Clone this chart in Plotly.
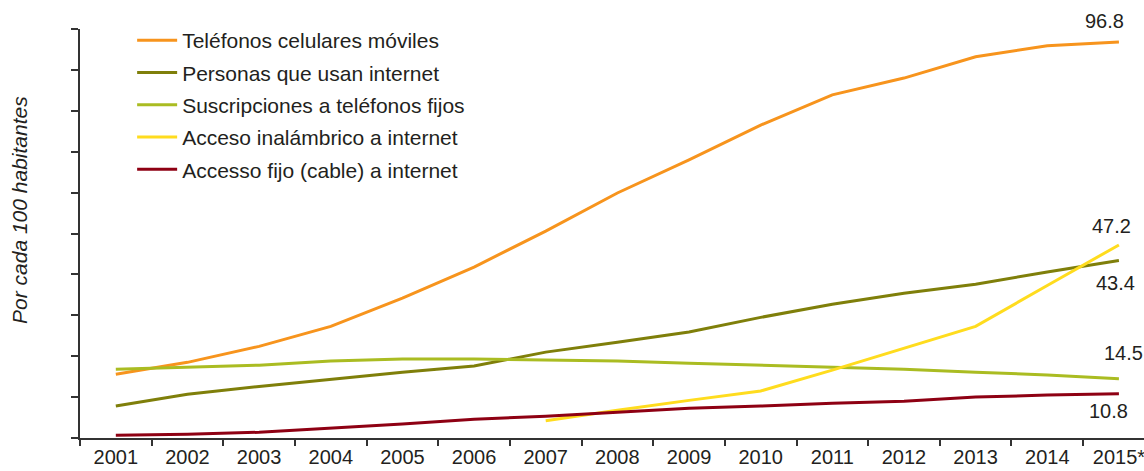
import plotly.graph_objects as go

# Years on the category axis
years = ["2001", "2002", "2003", "2004", "2005", "2006", "2007", "2008",
         "2009", "2010", "2011", "2012", "2013", "2014", "2015*"]

# Indicators per 100 inhabitants
moviles = [15.6, 18.5, 22.4, 27.3, 34.2, 41.8, 50.6, 59.9, 68.0, 76.5, 83.9, 88.0, 93.2, 95.9, 96.8]
usuarios_internet = [7.8, 10.7, 12.6, 14.4, 16.1, 17.6, 21.0, 23.4, 25.9, 29.5, 32.7, 35.4, 37.6, 40.6, 43.4]
fijos = [16.8, 17.3, 17.8, 18.8, 19.3, 19.3, 19.0, 18.8, 18.3, 17.8, 17.3, 16.8, 16.1, 15.4, 14.5]
inalambrico = [None, None, None, None, None, None, 4.2, 6.8, 9.2, 11.5, 16.6, 22.0, 27.3, 37.3, 47.2]
fijo_cable = [0.7, 0.9, 1.4, 2.4, 3.4, 4.6, 5.3, 6.3, 7.3, 7.8, 8.5, 9.0, 10.0, 10.5, 10.8]

series_names = [
    "Teléfonos celulares móviles",
    "Personas que usan internet",
    "Suscripciones a teléfonos fijos",
    "Acceso inalámbrico a internet",
    "Accesso fijo (cable) a internet",
]
series_values = [moviles, usuarios_internet, fijos, inalambrico, fijo_cable]
series_colors = ["#F7941D", "#7F7F0A", "#AABC22", "#FFDC1E", "#8E0013"]

FONT = "Liberation Sans, Arial, Helvetica, sans-serif"
TXT = "#231F20"

fig = go.Figure()
for i, (name, vals, col) in enumerate(zip(series_names, series_values, series_colors)):
    fig.add_trace(go.Scatter(
        x=years, y=vals, name=name, mode="lines",
        line=dict(color=col, width=3),
        legendgroup=f"g{i}",
        connectgaps=False,
    ))

# End-of-series value labels: (series index, x shift, y shift)
end_labels = [(0, -14, 21), (3, -7, 19), (1, -3, -23), (2, 5, 26), (4, -10, -17)]
for idx, dx, dy in end_labels:
    v = series_values[idx][-1]
    fig.add_annotation(
        x=years[-1], y=v, text=f"{v:.1f}", showarrow=False,
        xshift=dx, yshift=dy, xanchor="center", yanchor="middle",
        font=dict(family=FONT, size=20, color=TXT),
    )

# Rotated y-axis caption
fig.add_annotation(
    xref="paper", yref="paper", x=-60 / 1064, y=0.5575,
    text="<i>Por cada 100 habitantes</i>", textangle=-90, showarrow=False,
    xanchor="center", yanchor="middle",
    font=dict(family=FONT, size=21, color=TXT),
)

fig.update_layout(
    width=1144, height=471,
    margin=dict(l=80, r=0, t=29, b=33),
    paper_bgcolor="white", plot_bgcolor="white",
    font=dict(family=FONT, size=20, color=TXT),
    showlegend=True,
    legend=dict(
        x=0.049, y=1.022, xanchor="left", yanchor="top",
        bgcolor="rgba(0,0,0,0)", traceorder="grouped", tracegroupgap=2,
        itemwidth=40, font=dict(family=FONT, size=21, color=TXT),
    ),
    xaxis=dict(
        type="category", range=[-0.5, 14.35],
        showline=True, linecolor="#333333", linewidth=1.5,
        ticks="outside", tickson="boundaries", ticklen=6, tickcolor="#333333",
        tickwidth=1.5, showgrid=False, zeroline=False,
        tickfont=dict(family=FONT, size=20, color=TXT),
    ),
    yaxis=dict(
        range=[0, 100], dtick=10, showticklabels=False,
        showline=True, linecolor="#333333", linewidth=1.5,
        ticks="outside", ticklen=7, tickcolor="#333333", tickwidth=1.5,
        showgrid=False, zeroline=False,
    ),
)

fig.write_html("out.html")
